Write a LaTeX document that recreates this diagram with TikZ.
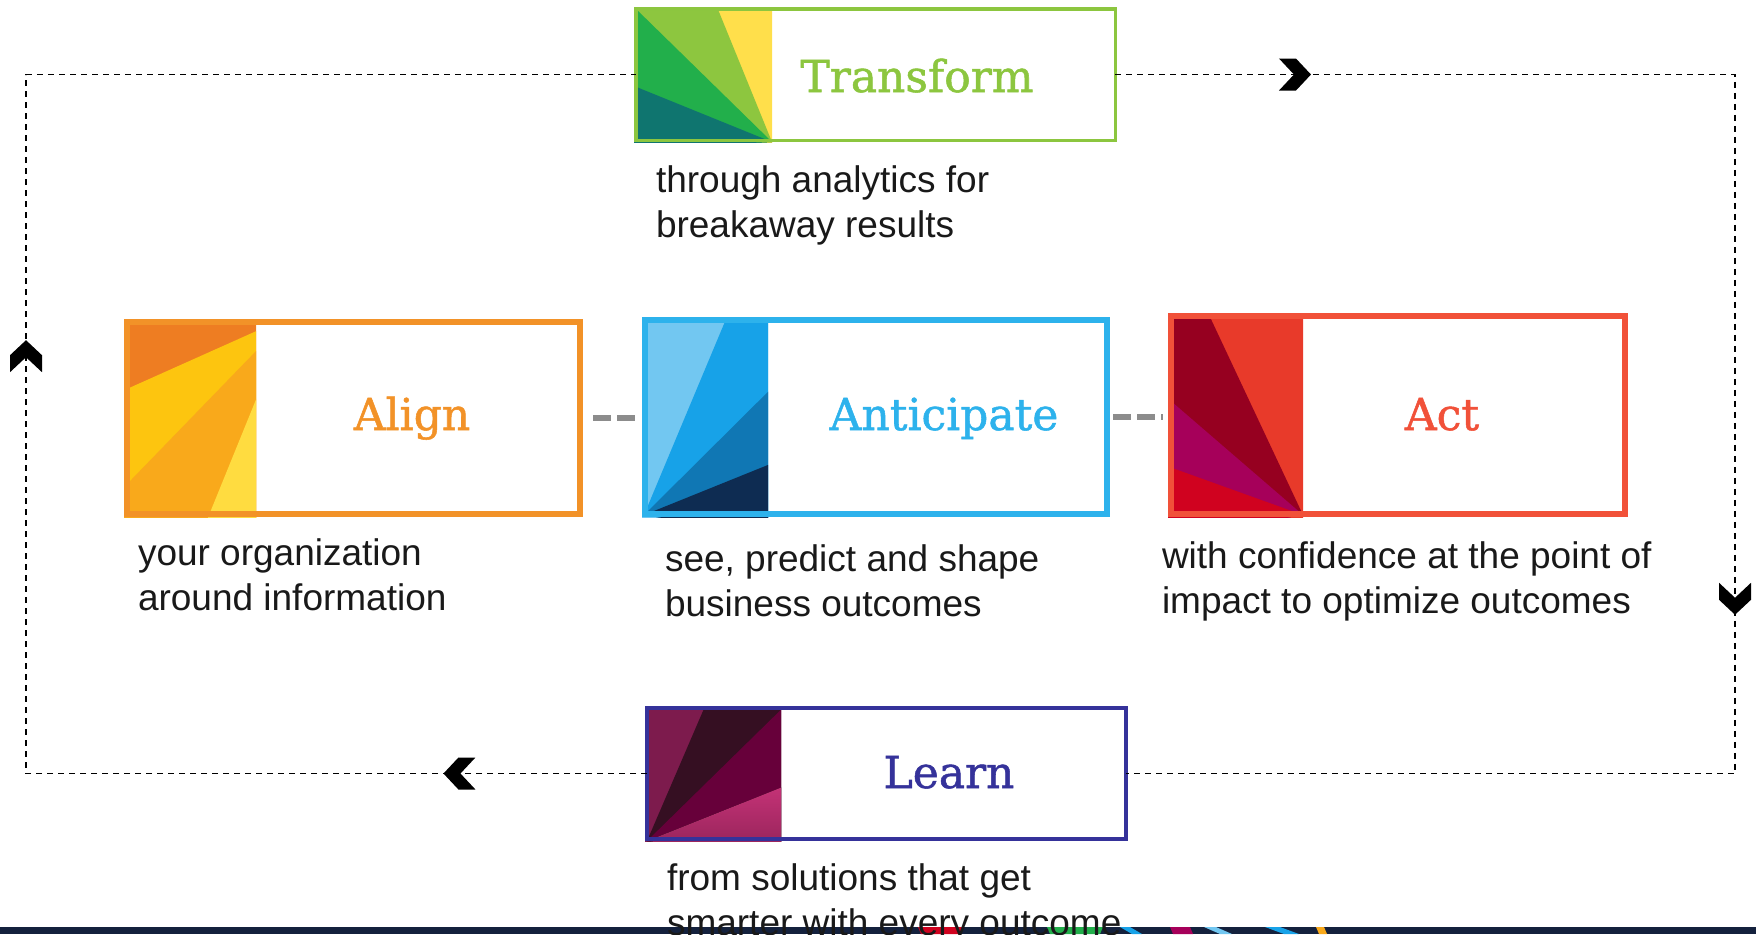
\documentclass[tikz,border=0pt]{standalone}
\usepackage{fontspec}
\setmainfont{Liberation Sans}
\newfontfamily\titlefont[FakeBold=1.2]{DejaVu Serif}
\usetikzlibrary{positioning}
\definecolor{trteal}{HTML}{0F756F}
\definecolor{trgreen}{HTML}{22AF4B}
\definecolor{trlime}{HTML}{8DC63F}
\definecolor{tryellow}{HTML}{FFDF4B}
\definecolor{alorange}{HTML}{EE7D22}
\definecolor{alyellow}{HTML}{FDC50F}
\definecolor{alamber}{HTML}{F9A91B}
\definecolor{allight}{HTML}{FFDC40}
\definecolor{anlight}{HTML}{72C7F1}
\definecolor{anblue}{HTML}{17A2E8}
\definecolor{anmid}{HTML}{1077B4}
\definecolor{annavy}{HTML}{0E2C52}
\definecolor{acorange}{HTML}{E83A2A}
\definecolor{acdark}{HTML}{960020}
\definecolor{acmag}{HTML}{A6005A}
\definecolor{acred}{HTML}{D0021F}
\definecolor{lnplum}{HTML}{7D1B4D}
\definecolor{lndark}{HTML}{350F22}
\definecolor{lnwine}{HTML}{67003A}
\definecolor{lnpink}{HTML}{C93479}
\definecolor{lnpinkdark}{HTML}{8E2155}
\definecolor{trline}{HTML}{8CC63F}
\definecolor{alline}{HTML}{F29228}
\definecolor{anline}{HTML}{2DB2EC}
\definecolor{acline}{HTML}{F15139}
\definecolor{lnline}{HTML}{35329A}
\definecolor{linkgray}{HTML}{8C8C8C}
\definecolor{stripnavy}{HTML}{14213D}

\begin{document}
\begin{tikzpicture}[x=0.5pt,y=-0.5pt]
	\tikzstyle{every node}=[inner sep=0pt,outer sep=0pt]
	\tikzstyle{box}=[shape=rectangle,draw,fill=none]
	\tikzstyle{title}=[font=\titlefont\fontsize{22}{26}\selectfont,anchor=base]
	\tikzstyle{desc}=[font=\fontsize{18.5}{22.5}\selectfont,text=black!90,align=left,anchor=base west]
	\tikzstyle{loopline}=[draw=black,line width=0.75pt,dash pattern=on 3pt off 2.5pt]
	\tikzstyle{link}=[draw=linkgray,line width=3pt,dash pattern=on 9pt off 3pt]
	\tikzset{chev/.pic={\fill[black] (16,0) -- (1,16) -- (-16,16) -- (-1,0) -- (-16,-16) -- (1,-16) -- cycle;}}

	\useasboundingbox (0,0) rectangle (1756,934);

	% pictures at the left of the boxes
	\begin{scope}
		\clip (634,7) rectangle (772,142);
		\fill[tryellow] (600,0) rectangle (800,150);
		\fill[trlime] (772,142) -- (717,7) -- (600,-20) -- (600,150) -- cycle;
		\fill[trgreen] (772,142) -- (634,7) -- (600,-30) -- (600,150) -- cycle;
		\fill[trteal] (772,142) -- (634,86) -- (600,72) -- (600,150) -- cycle;
	\end{scope}
	\begin{scope}
		\clip (124,319) rectangle (256,517);
		\fill[alorange] (100,300) rectangle (300,540);
		\fill[alyellow] (290,316) -- (100,401) -- (100,600) -- (400,600) -- cycle;
		\fill[alamber] (290,316) -- (100,512) -- (100,600) -- (400,600) -- cycle;
		\fill[allight] (290,316) -- (196,547) -- (400,547) -- cycle;
	\end{scope}
	\begin{scope}
		\clip (642,317) rectangle (768,517);
		\fill[anlight] (600,300) rectangle (800,540);
		\fill[anblue] (644,515) -- (734,300) -- (800,300) -- (800,540) -- cycle;
		\fill[anmid] (644,515) -- (800,360) -- (800,540) -- cycle;
		\fill[annavy] (644,515) -- (800,452) -- (800,540) -- cycle;
	\end{scope}
	\begin{scope}
		\clip (1168,313) rectangle (1303,517);
		\fill[acorange] (1150,300) rectangle (1320,540);
		\fill[acdark] (1303,515) -- (1202,300) -- (1150,300) -- (1150,540) -- cycle;
		\fill[acmag] (1303,515) -- (1150,383) -- (1150,540) -- cycle;
		\fill[acred] (1303,515) -- (1150,460) -- (1150,540) -- cycle;
	\end{scope}
	\begin{scope}
		\clip (645,706) rectangle (781,841);
		\fill[lnplum] (620,690) rectangle (800,860);
		\fill[lndark] (647,841) -- (712,690) -- (800,690) -- (800,860) -- cycle;
		\fill[lnwine] (647,841) -- (800,691) -- (800,860) -- cycle;
		\fill[top color=lnpink,bottom color=lnpinkdark] (647,841) -- (800,780) -- (800,860) -- cycle;
	\end{scope}

	% boxes
	\node[box,draw=trline,line width=1.75pt,minimum width=239.75pt,minimum height=65.75pt] (transform) at (875.5,74.5) {};
	\node[box,draw=alline,line width=3pt,minimum width=226.5pt,minimum height=96pt] (align) at (353.5,418) {};
	\node[box,draw=anline,line width=3pt,minimum width=231pt,minimum height=97pt] (anticipate) at (876,417) {};
	\node[box,draw=acline,line width=3pt,minimum width=227pt,minimum height=99pt] (act) at (1398,415) {};
	\node[box,draw=lnline,line width=2pt,minimum width=239.5pt,minimum height=65.5pt] (learn) at (886.5,773.5) {};

	\node[title,text=trline] (transformt) at (917,92) {Transform};
	\node[title,text=alline] (alignt) at (412,430) {Align};
	\node[title,text=anline] (anticipatet) at (944,430) {Anticipate};
	\node[title,text=acline] (actt) at (1442,430) {Act};
	\node[title,text=lnline] (learnt) at (949,788) {Learn};

	% the loop round the boxes
	\coordinate (ne) at (1735,74.5);
	\coordinate (se) at (1735,773.5);
	\coordinate (sw) at (26,773.5);
	\coordinate (nw) at (26,74.5);
	\draw[loopline] (transform.east) -- pic[pos=0.29,sloped,allow upside down]{chev} (ne)
		-- pic[pos=0.75,sloped,allow upside down]{chev} (se) -- (learn.east);
	\draw[loopline] (learn.west) -- pic[pos=0.302,sloped,allow upside down]{chev} (sw)
		-- pic[pos=0.597,sloped,allow upside down]{chev} (nw) -- (transform.west);

	\draw[link,shorten <=6.5pt,shorten >=4.5pt] (align.east) -- (align.east -| anticipate.west);
	\draw[link,shorten <=3pt,shorten >=4pt] (anticipate.east) -- (anticipate.east -| act.west);

	% strip at the bottom
	\fill[stripnavy] (0,927) rectangle (1756,934);
	\fill[acred] (918,927) -- (963,927) -- (960,934) -- (921,934) -- cycle;
	\fill[trgreen] (1047,927) -- (1103,927) -- (1100,934) -- (1050,934) -- cycle;
	\fill[anblue] (1120,927) -- (1130,927) -- (1142,934) -- (1132,934) -- cycle;
	\fill[acmag] (1170,927) -- (1190,927) -- (1193,934) -- (1173,934) -- cycle;
	\fill[anlight] (1204,927) -- (1216,927) -- (1232,934) -- (1220,934) -- cycle;
	\fill[anblue] (1265,927) -- (1280,927) -- (1299,934) -- (1284,934) -- cycle;
	\fill[alamber] (1316,927) -- (1324,927) -- (1327,934) -- (1319,934) -- cycle;

	\node[desc] (transformd) at (656,237) {through analytics for\\breakaway results};
	\node[desc] (alignd) at (138,610) {your organization\\around information};
	\node[desc] (anticipated) at (665,616) {see, predict and shape\\business outcomes};
	\node[desc] (actd) at (1162,613) {with confidence at the point of\\impact to optimize outcomes};
	\node[desc] (learnd) at (667,935) {from solutions that get\\smarter with every outcome};
\end{tikzpicture}
\end{document}
